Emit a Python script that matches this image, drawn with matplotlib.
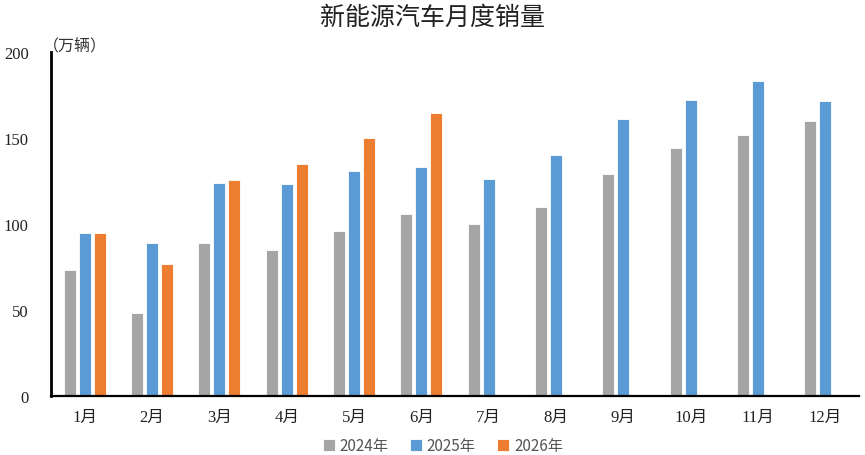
import numpy as np
import matplotlib.pyplot as plt

plt.rcParams['font.family'] = ['Noto Sans CJK SC', 'DejaVu Sans']

months = ['1月', '2月', '3月', '4月', '5月', '6月', '7月', '8月', '9月', '10月', '11月', '12月']
sales_2024 = [73, 48, 89, 85, 96, 106, 100, 110, 129, 144, 152, 160]
sales_2025 = [95, 89, 124, 123, 131, 133, 126, 140, 161, 172, 183, 171.5]
sales_2026 = [95, 77, 125.5, 135, 150, 164.5, np.nan, np.nan, np.nan, np.nan, np.nan, np.nan]
series = ['2024年', '2025年', '2026年']
colors = ['#A5A5A5', '#5B9BD5', '#ED7D31']

fig = plt.figure(figsize=(8.65, 4.56), dpi=100)
ax = fig.add_axes([0.059, 0.1294, 0.934, 0.7544])

x = np.arange(len(months))
w = 0.18
off = 0.223
for k, (vals, c, lab) in enumerate(zip([sales_2024, sales_2025, sales_2026], colors, series)):
    ax.bar(x + (k - 1) * off, vals, width=w, color=c, edgecolor='white',
           linewidth=0.6, label=lab, zorder=2)

ax.set_xlim(-0.5, 11.5)
ax.set_ylim(0, 200)
ax.set_yticks([0, 50, 100, 150, 200])
ax.set_xticks(x)
ax.set_xticklabels(months)

tick_font = ['Liberation Serif', 'Noto Sans CJK SC']
for t in ax.get_xticklabels() + ax.get_yticklabels():
    t.set_family(tick_font)
    t.set_fontsize(12)
    t.set_color('#222222')
ax.tick_params(axis='both', length=0)
ax.tick_params(axis='y', pad=16)
ax.tick_params(axis='x', pad=9)

for s in ['top', 'right']:
    ax.spines[s].set_visible(False)
ax.spines['left'].set_linewidth(2)
ax.spines['bottom'].set_linewidth(1.6)

fig.text(0.5, 0.96, '新能源汽车月度销量', ha='center', va='center', fontsize=18, color='#222222')
fig.text(0.05, 0.9, '（万辆）', ha='left', va='center', fontsize=11.5, color='#333333')

ax.legend(loc='upper center', bbox_to_anchor=(0.485, -0.08), ncol=3, frameon=False,
          fontsize=11, handlelength=0.8, handleheight=0.8, handletextpad=0.3,
          columnspacing=1.4, labelcolor='#555555')

fig.savefig('out.png', dpi=100)
